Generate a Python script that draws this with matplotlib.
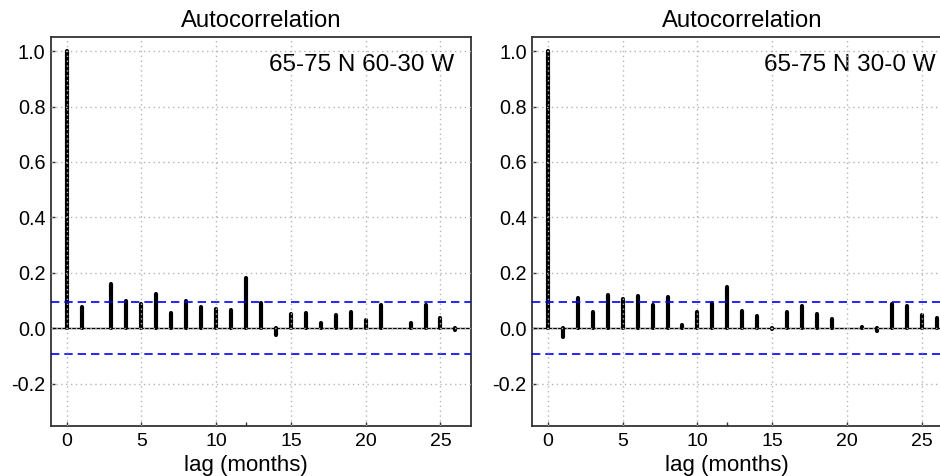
import numpy as np
import matplotlib
matplotlib.use("Agg")
import matplotlib.pyplot as plt

plt.rcParams["font.family"] = ["Liberation Sans", "DejaVu Sans"]
plt.rcParams["axes.unicode_minus"] = False

# Autocorrelation estimates, lags 0..26 (months)
lags = np.arange(0, 27)
acf_60_30w = [1.000, 0.076, 0.001, 0.159, 0.099, 0.089, 0.123, 0.053, 0.099,
              0.076, 0.071, 0.066, 0.182, 0.090, -0.023, 0.052, 0.053, 0.017,
              0.048, 0.058, 0.028, 0.082, 0.001, 0.020, 0.082, 0.038, -0.007]
acf_30_0w = [1.000, -0.032, 0.108, 0.058, 0.121, 0.106, 0.117, 0.085, 0.113,
             0.012, 0.057, 0.090, 0.149, 0.061, 0.044, -0.002, 0.058, 0.081,
             0.052, 0.032, -0.001, 0.003, -0.012, 0.089, 0.081, 0.046, 0.038]
conf_limit = 0.093

panels = [("65-75 N 60-30 W", acf_60_30w), ("65-75 N 30-0 W", acf_30_0w)]
xticks = [0, 5, 10, 15, 20, 25]
yticks = [-0.2, 0.0, 0.2, 0.4, 0.6, 0.8, 1.0]
ytick_labels = ["-0.2", "0.0", "0.2", "0.4", "0.6", "0.8", "1.0"]

W, H = 940, 476
fig = plt.figure(figsize=(W / 100, H / 100), dpi=100)
fig.patch.set_facecolor("white")

ax_left_px = [51, 532.3]
xlabel_x_frac = 0.4638          # x-label sits slightly left of the panel centre
ax_w_px, ax_top_px, ax_bot_px = 420, 36.7, 425.7
ax_h_px = ax_bot_px - ax_top_px

for (label, acf), lpx in zip(panels, ax_left_px):
    ax = fig.add_axes([lpx / W, (H - ax_bot_px) / H, ax_w_px / W, ax_h_px / H])
    ax.set_xlim(-1.04, 27.04)
    ax.set_ylim(-0.352, 1.052)

    ax.vlines(lags, 0, acf, color="black", linewidth=3.0, capstyle="round",
              zorder=2)
    ax.axhline(0, color="black", linewidth=1.0, zorder=2.2)
    for s in (conf_limit, -conf_limit):
        ax.axhline(s, color="#0000FF", linewidth=1.2,
                   linestyle=(0, (5, 3)), zorder=3)

    ax.text(0.9595, 0.9126, label, transform=ax.transAxes, ha="right",
            va="baseline", fontsize=17.5, color="black", zorder=4)

    # dotted grid drawn over everything
    for xv in xticks:
        ax.axvline(xv, color="#B4B4B4", linewidth=1.0,
                   linestyle=(0, (1, 2.5)), zorder=6)
    for yv in yticks:
        ax.axhline(yv, color="#B4B4B4", linewidth=1.0,
                   linestyle=(0, (1, 2.5)), zorder=6)

    ax.set_xticks(xticks)
    ax.set_xticks([12], minor=True)
    ax.set_yticks(yticks)
    ax.set_yticklabels(ytick_labels)
    ax.tick_params(axis="both", which="both", direction="in", length=3,
                   width=1, color="#333333", labelsize=14.3)
    ax.tick_params(axis="x", which="major", pad=5.5, labelsize=14)
    ax.tick_params(axis="y", which="major", pad=4)

    ax.set_title("Autocorrelation", fontsize=17.2, pad=7)
    ax.set_xlabel("lag (months)", fontsize=16)
    ax.xaxis.label.set_va("baseline")
    ax.xaxis.set_label_coords(xlabel_x_frac, (ax_bot_px - 470.5) / ax_h_px)

    for sp in ax.spines.values():
        sp.set_color("#333333")
        sp.set_linewidth(1.3)

fig.savefig("out.png", dpi=100, facecolor="white")
